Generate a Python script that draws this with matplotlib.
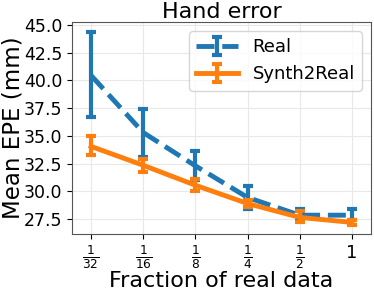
import numpy as np
from matplotlib import pyplot as plt

fractions = [1 / 32, 1 / 16, 1 / 8, 1 / 4, 1 / 2, 1]
tickLabels = [r'$\frac{1}{32}$', r'$\frac{1}{16}$', r'$\frac{1}{8}$', r'$\frac{1}{4}$', r'$\frac{1}{2}$', '1']

realMean = [40.45, 35.3, 32.3, 29.45, 27.85, 27.85]
realLow = [36.75, 33.1, 31.05, 28.45, 27.3, 27.45]
realHigh = [44.35, 37.4, 33.6, 30.5, 28.45, 28.4]

synthMean = [34.05, 32.35, 30.55, 28.9, 27.65, 27.2]
synthLow = [33.3, 31.75, 30.05, 28.55, 27.2, 27.0]
synthHigh = [34.95, 32.95, 31.1, 29.25, 28.2, 27.45]


def errs(mean, low, high):
    mean = np.array(mean)
    return [mean - np.array(low), np.array(high) - mean]


def main():
    fig, ax = plt.subplots(figsize=(3.74, 2.9), dpi=100)
    ax.errorbar(fractions, realMean, yerr=errs(realMean, realLow, realHigh), color='#1f77b4',
                linestyle='--', linewidth=3.5, elinewidth=3, capsize=3.5, capthick=3, label='Real')
    ax.errorbar(fractions, synthMean, yerr=errs(synthMean, synthLow, synthHigh), color='#ff7f0e',
                linestyle='-', linewidth=3.5, elinewidth=3, capsize=3.5, capthick=3, label='Synth2Real')
    ax.set_xscale('log', base=2)
    ax.set_xticks(fractions)
    ax.set_xticklabels(tickLabels)
    ax.minorticks_off()
    for lbl in ax.get_xticklabels():
        lbl.set_fontsize(13 if lbl.get_text() == '1' else 12.5)
    ax.set_xlim(0.0243, 1.29)
    ax.set_ylim(26.15, 45.27)
    ax.set_yticks([27.5, 30, 32.5, 35, 37.5, 40, 42.5, 45])
    ax.tick_params(axis='y', labelsize=12.5)
    ax.grid(True, color='#e8e8e8', linewidth=0.8)
    for s in ax.spines.values():
        s.set_color('#555555')
    ax.set_title('Hand error', fontsize=16, pad=2)
    ax.set_xlabel('Fraction of real data', fontsize=16, labelpad=0)
    ax.set_ylabel('Mean EPE (mm)', fontsize=16.5)
    ax.yaxis.set_label_coords(-0.16, 0.5)
    ax.legend(fontsize=13, loc='upper right', handlelength=2.3)
    fig.subplots_adjust(left=0.193, right=0.992, top=0.924, bottom=0.193)
    fig.savefig('out.png')


if __name__ == '__main__':
    main()
